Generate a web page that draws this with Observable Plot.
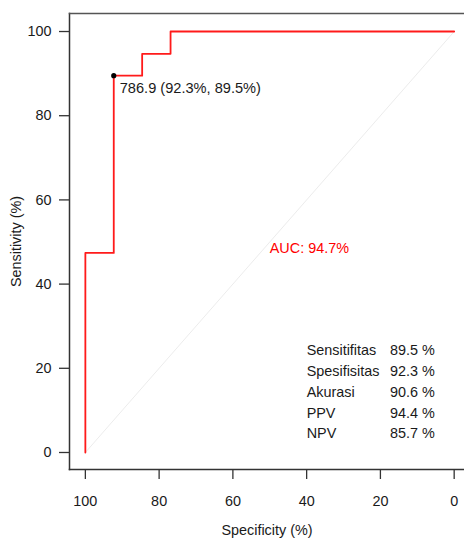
<!DOCTYPE html>
<html>
<head>
<meta charset="utf-8">
<script src="https://cdn.jsdelivr.net/npm/d3@7"></script>
<script src="https://cdn.jsdelivr.net/npm/@observablehq/plot@0.6"></script>
<style>
  html, body { margin: 0; padding: 0; background: #fff; }
  #chart svg { display: block; }
</style>
</head>
<body>
<div id="chart"></div>
<script>
// ROC curve corner points (specificity %, sensitivity %)
const specificity = [100, 92.3, 84.6, 76.9, 0];
const sensitivity = [0, 47.4, 89.5, 94.7, 100];

// Best threshold
const thresholdValue = "786.9";
const thresholdSpec = 92.3;
const thresholdSens = 89.5;

const aucText = "AUC: 94.7%";

// Summary table
const metricNames = ["Sensitifitas", "Spesifisitas", "Akurasi", "PPV", "NPV"];
const metricValues = ["89.5 %", "92.3 %", "90.6 %", "94.4 %", "85.7 %"];
const metricRowY = [24.3, 19.3, 14.3, 9.4, 4.5];

const xTicks = [100, 80, 60, 40, 20, 0];
const yTicks = [0, 20, 40, 60, 80, 100];

const roc = specificity.map((s, i) => ({spec: s, sens: sensitivity[i]}));
const diag = [{spec: 100, sens: 0}, {spec: 0, sens: 100}];
const thres = [{spec: thresholdSpec, sens: thresholdSens,
  label: `${thresholdValue} (${thresholdSpec}%, ${thresholdSens}%)`}];
const metrics = metricNames.map((n, i) => ({name: n, value: metricValues[i], y: metricRowY[i]}));

const font = "'Liberation Sans', Arial, sans-serif";
const ink = "#1a1a1a";
const fs = 14.4;

const chart = Plot.plot({
  width: 464,
  height: 540,
  marginLeft: 69,
  marginRight: 0,
  marginTop: 13,
  marginBottom: 71,
  style: {fontFamily: font, fontSize: fs + "px", color: ink, background: "#fff"},
  x: {domain: [104.3, -2.8], axis: null},
  y: {domain: [-4.04, 104.28], axis: null},
  marks: [
    // box (left, top, bottom)
    Plot.frame({anchor: "left", stroke: "#333", strokeWidth: 1.5}),
    Plot.frame({anchor: "top", stroke: "#555", strokeWidth: 1.5}),
    Plot.frame({anchor: "bottom", stroke: "#333", strokeWidth: 1.5}),
    Plot.axisX(xTicks, {anchor: "bottom", ticks: xTicks, tickSize: 10, tickPadding: 16,
      tickFormat: d => String(d), fontSize: fs, stroke: "#333", strokeWidth: 1.3, label: null}),
    Plot.axisY(yTicks, {anchor: "left", ticks: yTicks, tickSize: 10, tickPadding: 8,
      tickFormat: d => String(d), fontSize: fs, stroke: "#333", strokeWidth: 1.3, label: null}),
    // diagonal
    Plot.line(diag, {x: "spec", y: "sens", stroke: "#ececec", strokeWidth: 1}),
    // ROC curve
    Plot.line(roc, {x: "spec", y: "sens", curve: "step-before", stroke: "#ff1a1a", strokeWidth: 1.8}),
    // threshold
    Plot.dot(thres, {x: "spec", y: "sens", r: 2.6, fill: "#000", stroke: "none"}),
    Plot.text(thres, {x: "spec", y: "sens", text: "label", textAnchor: "start", dx: 6, dy: 13,
      lineAnchor: "middle", fill: ink, fontSize: 14.6}),
    // AUC
    Plot.text([aucText], {x: 50, y: 50, text: d => d, textAnchor: "start", lineAnchor: "middle",
      dy: 6, fill: "#ff0000", fontSize: 14.4}),
    // summary table
    Plot.text(metrics, {x: 40, y: "y", text: "name", textAnchor: "start", lineAnchor: "middle",
      fill: ink, fontSize: fs}),
    Plot.text(metrics, {x: 17.4, y: "y", text: "value", textAnchor: "start", lineAnchor: "middle",
      fill: ink, fontSize: fs}),
    // axis titles
    Plot.text(["Specificity (%)"], {frameAnchor: "bottom", text: d => d, dy: 61,
      lineAnchor: "middle", fill: ink, fontSize: fs}),
    Plot.text(["Sensitivity (%)"], {frameAnchor: "left", text: d => d, dx: -53, rotate: -90,
      lineAnchor: "middle", textAnchor: "middle", fill: ink, fontSize: fs})
  ]
});
document.getElementById("chart").appendChild(chart);
</script>
</body>
</html>
